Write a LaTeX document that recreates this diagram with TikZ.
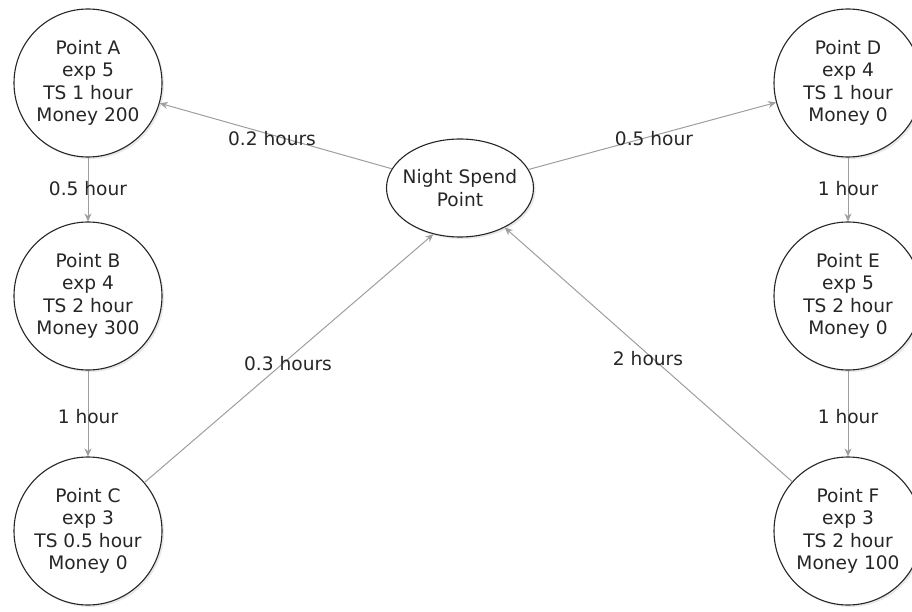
\documentclass[tikz,border=0pt]{standalone}
\usepackage{fontspec}
\setmainfont{DejaVu Sans}
\usetikzlibrary{arrows.meta,shadows,shapes.geometric}
\begin{document}
\begin{tikzpicture}[x=1pt,y=-1pt,
  txt/.style={font=\fontsize{18.6}{22.3}\selectfont, text=black!85, align=center},
  point/.style={txt, circle, draw=black!85, line width=1.1pt, fill=white,
    minimum size=148pt, inner sep=0pt,
    drop shadow={opacity=0.18, shadow xshift=2pt, shadow yshift=-2pt}},
  hub/.style={txt, ellipse, draw=black!85, line width=1.1pt, fill=white,
    minimum width=147pt, minimum height=98pt, inner xsep=-14pt, inner ysep=0pt,
    drop shadow={opacity=0.18, shadow xshift=2pt, shadow yshift=-2pt}},
  link/.style={draw=black!38, line width=1pt, -{Stealth[length=8pt,width=7pt]}},
  lbl/.style={txt}
]
\useasboundingbox (0,0) rectangle (912,612);
\clip (0,0) rectangle (912,612);

% stops on the left and right columns
\node[point] (A) at (88,83)  {Point A\\exp 5\\TS 1 hour\\Money 200};
\node[point] (B) at (88,296) {Point B\\exp 4\\TS 2 hour\\Money 300};
\node[point] (C) at (88,531) {Point C\\exp 3\\TS 0.5 hour\\Money 0};
\node[point] (D) at (848,83)  {Point D\\exp 4\\TS 1 hour\\Money 0};
\node[point] (E) at (848,296) {Point E\\exp 5\\TS 2 hour\\Money 0};
\node[point] (F) at (848,531) {Point F\\exp 3\\TS 2 hour\\Money 100};

% central overnight point
\node[hub] (N) at (460,188) {Night Spend\\Point};

% connections
\draw[link] (N) -- (A);
\draw[link] (N) -- (D);
\draw[link] (A) -- (B);
\draw[link] (B) -- (C);
\draw[link] (C) -- (N.240);
\draw[link] (D) -- (E);
\draw[link] (E) -- (F);
\draw[link] (F) -- (N);

% travel times
\node[lbl] (tNA) at (272,139) {0.2 hours};
\node[lbl] (tND) at (654,139) {0.5 hour};
\node[lbl] (tAB) at (88,189)  {0.5 hour};
\node[lbl] (tBC) at (88,417)  {1 hour};
\node[lbl] (tCN) at (288,364) {0.3 hours};
\node[lbl] (tDE) at (848,189) {1 hour};
\node[lbl] (tEF) at (848,417) {1 hour};
\node[lbl] (tFN) at (648,359) {2 hours};
\end{tikzpicture}
\end{document}
